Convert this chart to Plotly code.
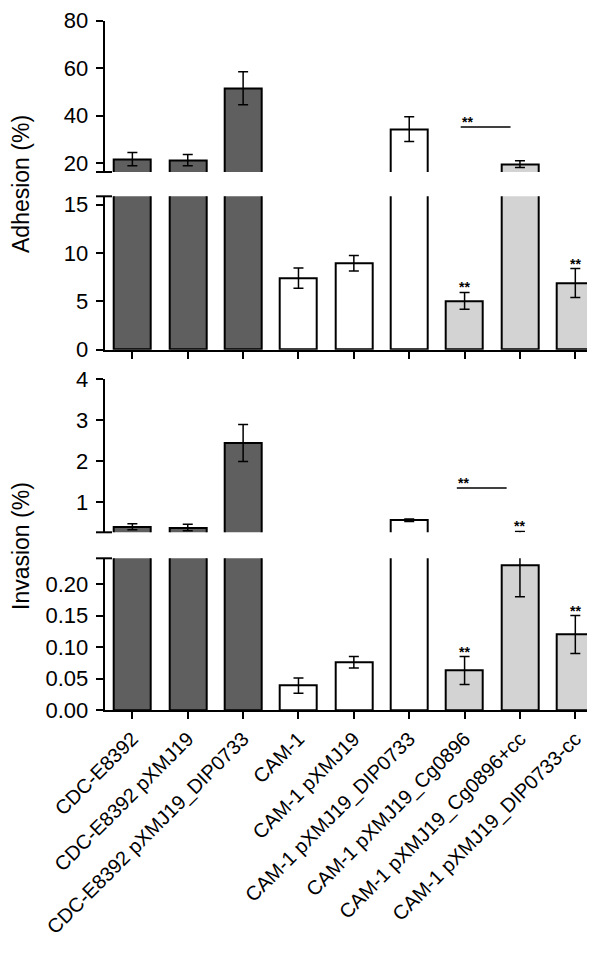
import plotly.graph_objects as go

categories = ["CDC-E8392", "CDC-E8392 pXMJ19", "CDC-E8392 pXMJ19_DIP0733",
              "CAM-1", "CAM-1 pXMJ19", "CAM-1 pXMJ19_DIP0733",
              "CAM-1 pXMJ19_Cg0896", "CAM-1 pXMJ19_Cg0896+cc", "CAM-1 pXMJ19_DIP0733-cc"]
adhesion = [21.7, 21.3, 51.5, 7.4, 8.95, 34.3, 5.05, 19.6, 6.9]
adhesion_err = [2.75, 2.4, 6.9, 1.05, 0.8, 5.2, 0.87, 1.45, 1.5]
adhesion_sig = ["", "", "", "", "", "", "**", "", "**"]
invasion = [0.395, 0.375, 2.44, 0.039, 0.076, 0.555, 0.063, 0.23, 0.12]
invasion_err = [0.075, 0.08, 0.45, 0.012, 0.009, 0.03, 0.022, 0.05, 0.03]
invasion_sig = ["", "", "", "", "", "", "**", "**", "**"]

bar_colors = ["#5f5f5f"] * 3 + ["#ffffff"] * 3 + ["#d3d3d3"] * 3

W, H = 595, 953
FONT = "Arial, Liberation Sans, sans-serif"

def py(px):
    return 1 - px / H

def px_x(px):
    return px / W

xdom = [px_x(96.7), 1.0]
dom = {
    "y": [py(164), py(12.5)],
    "y2": [py(341.7), py(188.3)],
    "y3": [py(524.3), py(371)],
    "y4": [py(702.3), py(550.3)],
}
ranges = {
    "y": [16.3, 80],
    "y2": [0, 15.87],
    "y3": [0.26, 4],
    "y4": [0, 0.2407],
}

fig = go.Figure()

def add_bars(xa, ya, vals, errs):
    fig.add_trace(go.Bar(
        x=categories, y=vals, xaxis=xa, yaxis=ya,
        marker=dict(color=bar_colors, line=dict(color="black", width=2)),
        width=0.67,
        error_y=dict(type="data", array=errs, color="black", thickness=1.5, width=5),
        showlegend=False, hoverinfo="x+y",
    ))

add_bars("x", "y", adhesion, adhesion_err)
add_bars("x2", "y2", adhesion, adhesion_err)
add_bars("x3", "y3", invasion, invasion_err)
add_bars("x4", "y4", invasion, invasion_err)

axis_common = dict(showgrid=False, zeroline=False, automargin=False,
                   tickfont=dict(family=FONT, size=22, color="black"),
                   linecolor="black", linewidth=2, tickcolor="black", tickwidth=2, ticklen=7)
ycommon = dict(axis_common, showline=True, ticks="outside", ticklabeloverflow="allow",
               ticklabelstandoff=3)

xcommon = dict(axis_common, type="category", range=[-0.5, 8.5], domain=xdom)
layout = dict(
    width=W, height=H, margin=dict(l=0, r=0, t=0, b=0),
    paper_bgcolor="white", plot_bgcolor="white", bargap=0,
    font=dict(family=FONT, size=18, color="black"),
    xaxis=dict(xcommon, anchor="y", showline=False, ticks="", showticklabels=False),
    xaxis2=dict(xcommon, anchor="y2", showline=True, ticks="outside", showticklabels=False),
    xaxis3=dict(xcommon, anchor="y3", showline=False, ticks="", showticklabels=False),
    xaxis4=dict(xcommon, anchor="y4", showline=True, ticks="outside", tickangle=-45,
                ticklabeloverflow="allow",
                tickfont=dict(family=FONT, size=20, color="black")),
    yaxis=dict(ycommon, domain=dom["y"], range=ranges["y"], anchor="x",
               tickvals=[20, 40, 60, 80]),
    yaxis2=dict(ycommon, domain=dom["y2"], range=ranges["y2"], anchor="x2",
                tickvals=[0, 5, 10, 15]),
    yaxis3=dict(ycommon, domain=dom["y3"], range=ranges["y3"], anchor="x3",
                tickvals=[1, 2, 3, 4]),
    yaxis4=dict(ycommon, domain=dom["y4"], range=ranges["y4"], anchor="x4",
                tickvals=[0, 0.05, 0.10, 0.15, 0.20], tickformat=".2f"),
)
fig.update_layout(**layout)

shapes = []
# axis break marks
for yk in ["y", "y2", "y3", "y4"]:
    d = dom[yk]
    yb = d[0] if yk in ("y", "y3") else d[1]
    shapes.append(dict(type="line", xref="paper", yref="paper",
                       x0=px_x(88), x1=px_x(104), y0=yb, y1=yb,
                       line=dict(color="black", width=2)))

STAR_FONT = dict(family=FONT, size=14, color="black")
annotations = []
def add_sig(vals, errs, sig, upper, lower):
    for i, s in enumerate(sig):
        if not s:
            continue
        top = vals[i] + errs[i]
        if top > ranges[lower][1]:
            ay = upper
        else:
            ay = lower
        xr = "x" + ay[1:]
        annotations.append(dict(x=categories[i], y=top, xref=xr, yref=ay, text="<b>" + s + "</b>",
                                showarrow=False, xanchor="center", yanchor="bottom", yshift=-5,
                                font=STAR_FONT))

add_sig(adhesion, adhesion_err, adhesion_sig, "y", "y2")
add_sig(invasion, invasion_err, invasion_sig, "y3", "y4")

# comparison brackets
shapes.append(dict(type="line", xref="x", yref="y", x0=5.93, x1=6.83, y0=35.2, y1=35.2,
                   line=dict(color="black", width=1.5)))
annotations.append(dict(x=6.05, y=35.2, xref="x", yref="y", text="<b>**</b>", showarrow=False,
                        xanchor="center", yanchor="bottom", yshift=-5, font=STAR_FONT))
shapes.append(dict(type="line", xref="x3", yref="y3", x0=5.86, x1=6.76, y0=1.34, y1=1.34,
                   line=dict(color="black", width=1.5)))
annotations.append(dict(x=5.98, y=1.34, xref="x3", yref="y3", text="<b>**</b>", showarrow=False,
                        xanchor="center", yanchor="bottom", yshift=-5, font=STAR_FONT))

# axis titles
TITLE_FONT = dict(family=FONT, size=23, color="black")
annotations.append(dict(x=px_x(13), y=py(176), xref="paper", yref="paper", text="Adhesion (%)",
                        textangle=-90, showarrow=False, xanchor="center", yanchor="middle",
                        font=TITLE_FONT))
annotations.append(dict(x=px_x(13), y=py(538), xref="paper", yref="paper", text="Invasion (%)",
                        textangle=-90, showarrow=False, xanchor="center", yanchor="middle",
                        font=TITLE_FONT))

fig.update_layout(shapes=shapes, annotations=annotations)
fig.write_html("out.html")
